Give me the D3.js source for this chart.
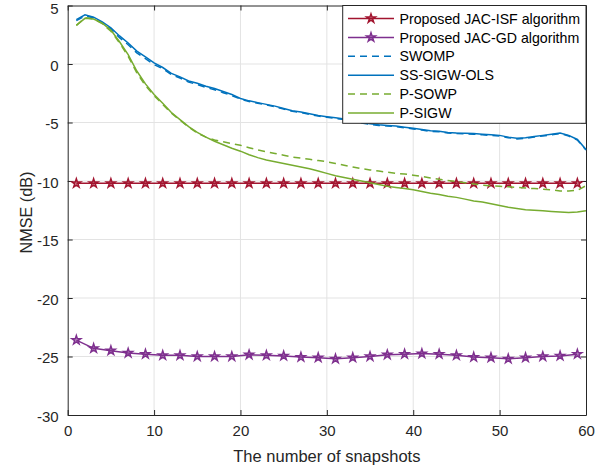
<!DOCTYPE html>
<html>
<head>
<meta charset="utf-8">
<script src="https://cdn.jsdelivr.net/npm/d3@7"></script>
<style>
  html, body { margin: 0; padding: 0; background: #ffffff; }
  svg { display: block; font-family: "Liberation Sans", Arial, Helvetica, sans-serif; }
</style>
</head>
<body>
<svg id="chart" width="612" height="470"></svg>
<script>
// Snapshot counts for the continuous curves and the marked curves
const snapshots = d3.range(1, 61);
const markedSnapshots = d3.range(1, 60, 2);

// NMSE (dB) per snapshot count
const swomp = [3.7, 4.1, 3.95, 3.5, 3.0, 2.25, 1.65, 0.95, 0.45, -0.05,
  -0.4, -0.9, -1.2, -1.55, -1.75, -2.0, -2.2, -2.45, -2.7, -3.0,
  -3.2, -3.35, -3.5, -3.65, -3.85, -4.05, -4.15, -4.3, -4.45, -4.55,
  -4.65, -4.75, -4.9, -5.05, -5.15, -5.25, -5.3, -5.35, -5.45, -5.55,
  -5.65, -5.75, -5.8, -5.9, -5.95, -5.97, -6.0, -6.05, -6.1, -6.15,
  -6.3, -6.4, -6.35, -6.25, -6.15, -6.05, -5.95, -6.15, -6.5, -7.35];
const ssSigwOls = [3.8, 4.2, 4.0, 3.6, 3.1, 2.4, 1.8, 1.1, 0.6, 0.1,
  -0.3, -0.8, -1.1, -1.45, -1.65, -1.9, -2.1, -2.35, -2.6, -2.95,
  -3.15, -3.3, -3.45, -3.6, -3.8, -4.0, -4.1, -4.25, -4.4, -4.5,
  -4.6, -4.7, -4.85, -5.0, -5.1, -5.2, -5.25, -5.3, -5.4, -5.5,
  -5.6, -5.7, -5.75, -5.85, -5.9, -5.92, -5.95, -6.0, -6.05, -6.1,
  -6.25, -6.35, -6.3, -6.2, -6.1, -6.0, -5.9, -6.1, -6.45, -7.3];
const pSowp = [3.3, 3.95, 3.85, 3.45, 2.8, 1.8, 0.65, -0.75, -1.85, -2.7,
  -3.45, -4.2, -4.8, -5.4, -5.9, -6.25, -6.5, -6.65, -6.8, -6.95,
  -7.15, -7.35, -7.5, -7.65, -7.8, -7.95, -8.05, -8.15, -8.25, -8.35,
  -8.5, -8.65, -8.8, -8.95, -9.05, -9.15, -9.25, -9.35, -9.4, -9.5,
  -9.6, -9.75, -9.85, -9.95, -10.05, -10.15, -10.25, -10.35, -10.4, -10.45,
  -10.5, -10.55, -10.6, -10.65, -10.7, -10.75, -10.85, -10.85, -10.8, -10.4];
const pSigw = [3.3, 3.9, 3.85, 3.5, 2.9, 1.9, 0.8, -0.6, -1.7, -2.6,
  -3.35, -4.15, -4.75, -5.35, -5.85, -6.25, -6.6, -6.9, -7.2, -7.45,
  -7.75, -8.0, -8.2, -8.35, -8.5, -8.65, -8.8, -8.95, -9.15, -9.35,
  -9.55, -9.7, -9.85, -10.0, -10.15, -10.3, -10.45, -10.55, -10.65, -10.75,
  -10.9, -11.05, -11.15, -11.3, -11.4, -11.55, -11.7, -11.8, -11.95, -12.1,
  -12.25, -12.35, -12.45, -12.5, -12.55, -12.6, -12.65, -12.7, -12.65, -12.55];
const jacIsf = [-10.2, -10.2, -10.2, -10.2, -10.2, -10.2, -10.2, -10.2, -10.2, -10.2,
  -10.2, -10.2, -10.2, -10.2, -10.2, -10.2, -10.2, -10.2, -10.2, -10.2,
  -10.2, -10.2, -10.2, -10.2, -10.2, -10.2, -10.2, -10.2, -10.2, -10.2];
const jacGd = [-23.6, -24.3, -24.5, -24.7, -24.8, -24.9, -24.9, -25.0, -25.0, -25.0,
  -24.85, -24.9, -24.95, -25.05, -25.1, -25.2, -25.1, -25.0, -24.85, -24.8,
  -24.75, -24.8, -24.9, -25.05, -25.1, -25.2, -25.1, -25.0, -24.95, -24.8];

// Axis ticks
const xTicks = [0, 10, 20, 30, 40, 50, 60];
const yTicks = [-30, -25, -20, -15, -10, -5, 0, 5];

const seriesNames = ["Proposed JAC-ISF algorithm", "Proposed JAC-GD algorithm",
  "SWOMP", "SS-SIGW-OLS", "P-SOWP", "P-SIGW"];

const series = [
  { name: seriesNames[0], xs: markedSnapshots, ys: jacIsf, color: "#A2142F", dash: null, star: true },
  { name: seriesNames[1], xs: markedSnapshots, ys: jacGd, color: "#7E2F8E", dash: null, star: true },
  { name: seriesNames[2], xs: snapshots, ys: swomp, color: "#0072BD", dash: "7,5", star: false },
  { name: seriesNames[3], xs: snapshots, ys: ssSigwOls, color: "#0072BD", dash: null, star: false },
  { name: seriesNames[4], xs: snapshots, ys: pSowp, color: "#77AC30", dash: "7,5", star: false },
  { name: seriesNames[5], xs: snapshots, ys: pSigw, color: "#77AC30", dash: null, star: false }
];

const svg = d3.select("#chart");
const plotL = 67.7, plotR = 586, plotT = 5.5, plotB = 415;
const x = d3.scaleLinear().domain([0, 60]).range([plotL, plotR]);
const y = d3.scaleLinear().domain([-30, 5]).range([plotB, plotT]);
const axisColor = "#262626";
const fmt = d => String(d);

// Grid
const grid = svg.append("g");
grid.selectAll(".gx").data(xTicks.slice(1, -1)).join("line")
  .attr("x1", d => x(d)).attr("x2", d => x(d))
  .attr("y1", plotT).attr("y2", plotB)
  .attr("stroke", "#e3e3e3").attr("stroke-width", 1);
grid.selectAll(".gy").data(yTicks.slice(1, -1)).join("line")
  .attr("x1", plotL).attr("x2", plotR)
  .attr("y1", d => y(d)).attr("y2", d => y(d))
  .attr("stroke", "#e3e3e3").attr("stroke-width", 1);

// Axes with inward ticks on all four sides
function styleAxis(g) {
  g.select(".domain").attr("stroke", axisColor).attr("stroke-width", 1);
  g.selectAll(".tick line").attr("stroke", axisColor);
  g.selectAll(".tick text").attr("fill", "#262626")
    .style("font-size", "15px").style("font-family", "Liberation Sans, Arial, sans-serif");
}
svg.append("g").attr("transform", `translate(0,${plotB})`)
  .call(d3.axisBottom(x).tickValues(xTicks).tickFormat(fmt).tickSizeInner(-5).tickSizeOuter(0).tickPadding(10))
  .call(styleAxis);
svg.append("g").attr("transform", `translate(0,${plotT})`)
  .call(d3.axisTop(x).tickValues(xTicks).tickSizeInner(-5).tickSizeOuter(0).tickFormat(""))
  .call(styleAxis);
svg.append("g").attr("transform", `translate(${plotL},0)`)
  .call(d3.axisLeft(y).tickValues(yTicks).tickFormat(fmt).tickSizeInner(-5).tickSizeOuter(0).tickPadding(9))
  .call(styleAxis)
  .call(g => g.selectAll(".tick text").attr("dy", d => d === 5 ? "0.55em" : "0.42em"));
svg.append("g").attr("transform", `translate(${plotR},0)`)
  .call(d3.axisRight(y).tickValues(yTicks).tickSizeInner(-5).tickSizeOuter(0).tickFormat(""))
  .call(styleAxis);

// Curves
const line = d3.line().x(d => x(d[0])).y(d => y(d[1]));
const star = d3.symbol().type(d3.symbolStar).size(24);
const plot = svg.append("g");
series.forEach(s => {
  const pts = s.xs.map((v, i) => [v, s.ys[i]]);
  plot.append("path").datum(pts)
    .attr("d", line).attr("fill", "none")
    .attr("stroke", s.color).attr("stroke-width", 1.5)
    .attr("stroke-dasharray", s.dash);
  if (s.star) {
    plot.selectAll(null).data(pts).join("path")
      .attr("d", star)
      .attr("transform", d => `translate(${x(d[0])},${y(d[1])})`)
      .attr("fill", s.color).attr("fill-opacity", 0.45)
      .attr("stroke", s.color).attr("stroke-width", 1.5);
  }
});

// Legend
const lg = svg.append("g");
const lgX0 = 342.7, lgX1 = plotR, lgY0 = plotT, lgY1 = 123.3;
lg.append("rect").attr("x", lgX0).attr("y", lgY0)
  .attr("width", lgX1 - lgX0).attr("height", lgY1 - lgY0)
  .attr("fill", "#ffffff").attr("stroke", axisColor).attr("stroke-width", 1);
series.forEach((s, i) => {
  const cy = 18.5 + i * 18.9;
  lg.append("line").attr("x1", 348).attr("x2", 394).attr("y1", cy).attr("y2", cy)
    .attr("stroke", s.color).attr("stroke-width", 1.5).attr("stroke-dasharray", s.dash);
  if (s.star) {
    lg.append("path").attr("d", star).attr("transform", `translate(371,${cy})`)
      .attr("fill", s.color).attr("fill-opacity", 0.45)
      .attr("stroke", s.color).attr("stroke-width", 1.5);
  }
  lg.append("text").attr("x", 399.5).attr("y", cy).attr("dy", "0.36em")
    .attr("fill", "#000000").style("font-size", "14.2px").text(s.name);
});

// Axis titles
svg.append("text").attr("x", (plotL + plotR) / 2).attr("y", 462)
  .attr("text-anchor", "middle").attr("fill", "#262626")
  .style("font-size", "16.5px").text("The number of snapshots");
svg.append("text").attr("transform", `translate(31.5,212.5) rotate(-90)`)
  .attr("text-anchor", "middle").attr("fill", "#262626")
  .style("font-size", "16.2px").text("NMSE (dB)");
</script>
</body>
</html>
